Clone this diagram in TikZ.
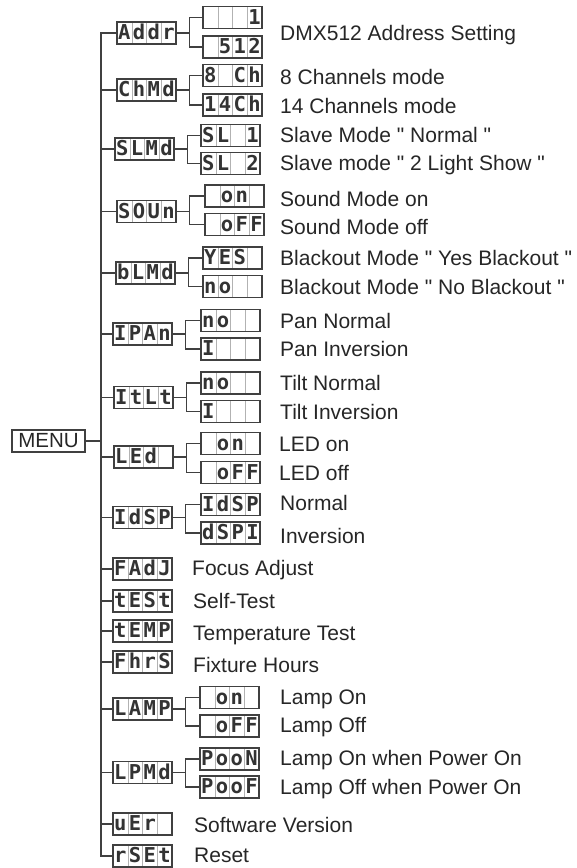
\documentclass[tikz,border=0pt]{standalone}
\usepackage{fontspec}
\setmainfont{Liberation Sans}
\newfontfamily\lcdfont{DejaVu Sans Mono}
\usetikzlibrary{calc}

% four digit cells of a display
\newcommand\digits[4]{\makebox[14.75pt]{#1}\makebox[14.75pt]{#2}\makebox[14.75pt]{#3}\makebox[14.75pt]{#4}}
\newcommand\qt{\textquotedbl}

\tikzset{
  lcd/.style={draw=black!75, line width=1.1pt, minimum width=59pt, minimum height=22pt,
    inner sep=0pt, text height=15pt, text depth=2pt, text=black!80,
    font=\lcdfont\bfseries\fontsize{20.5}{20.5}\selectfont,
    path picture={\foreach \k in {1,2,3}
      \draw[black!30, line width=0.5pt]
        ($(path picture bounding box.north west)!\k/4!(path picture bounding box.north east)$) --
        ($(path picture bounding box.south west)!\k/4!(path picture bounding box.south east)$);}},
  lbl/.style={anchor=base west, inner sep=0pt, text=black!85, font=\fontsize{21}{24}\selectfont},
  wire/.style={draw=black!75, line width=1.1pt},
}

\begin{document}
\begin{tikzpicture}[x=1pt, y=-1pt]
  \useasboundingbox (0,0) rectangle (577,868);

  % Root
  \node[draw=black!75, line width=1.1pt, inner sep=0pt, minimum width=73pt, minimum height=22pt,
        text=black!85, font=\fontsize{20.5}{24}\selectfont] (menu) at (48.5,441) {MENU};
  \coordinate (trunk) at (101,441);

  % --- First level displays ---
  \node[lcd] (addr) at (146.5,33)    {\digits{A}{d}{d}{r}};
  \node[lcd] (chmd) at (146.5,90)    {\digits{C}{h}{M}{d}};
  \node[lcd] (slmd) at (144.5,149)   {\digits{S}{L}{M}{d}};
  \node[lcd] (soun) at (146.5,211.5) {\digits{S}{O}{U}{n}};
  \node[lcd] (blmd) at (145.5,273)   {\digits{b}{L}{M}{d}};
  \node[lcd] (ipan) at (142.5,334)   {\digits{I}{P}{A}{n}};
  \node[lcd] (itlt) at (143.5,397.5) {\digits{I}{t}{L}{t}};
  \node[lcd] (led)  at (143.5,457)   {\digits{L}{E}{d}{}};
  \node[lcd] (idsp) at (142.5,517.5) {\digits{I}{d}{S}{P}};
  \node[lcd] (fadj) at (142.5,569)   {\digits{F}{A}{d}{J}};
  \node[lcd] (test) at (142.5,601)   {\digits{t}{E}{S}{t}};
  \node[lcd] (temp) at (142.5,631)   {\digits{t}{E}{M}{P}};
  \node[lcd] (fhrs) at (142.5,662)   {\digits{F}{h}{r}{S}};
  \node[lcd] (lamp) at (142.5,709)   {\digits{L}{A}{M}{P}};
  \node[lcd] (lpmd) at (142.5,772.5) {\digits{L}{P}{M}{d}};
  \node[lcd] (uer)  at (142.5,824)   {\digits{u}{E}{r}{}};
  \node[lcd] (rset) at (142.5,856)   {\digits{r}{S}{E}{t}};

  % --- Second level displays ---
  \node[lcd] (addra) at (232.5,17.5)  {\digits{}{}{}{1}};
  \node[lcd] (addrb) at (232.5,47)    {\digits{}{5}{1}{2}};
  \node[lcd] (chea)  at (232.5,75.5)  {\digits{8}{}{C}{h}};
  \node[lcd] (cheb)  at (232.5,105)   {\digits{1}{4}{C}{h}};
  \node[lcd] (slva)  at (230.5,135.5) {\digits{S}{L}{}{1}};
  \node[lcd] (slvb)  at (230.5,163.5) {\digits{S}{L}{}{2}};
  \node[lcd] (sona)  at (234.5,196)   {\digits{}{o}{n}{}};
  \node[lcd] (sonb)  at (234.5,224.5) {\digits{}{o}{F}{F}};
  \node[lcd] (blka)  at (232.5,258)   {\digits{Y}{E}{S}{}};
  \node[lcd] (blkb)  at (232.5,286.5) {\digits{n}{o}{}{}};
  \node[lcd] (pana)  at (230.5,320.5) {\digits{n}{o}{}{}};
  \node[lcd] (panb)  at (230.5,349)   {\digits{I}{}{}{}};
  \node[lcd] (tlta)  at (230.5,383)   {\digits{n}{o}{}{}};
  \node[lcd] (tltb)  at (230.5,411.5) {\digits{I}{}{}{}};
  \node[lcd] (leda)  at (230.5,443.5) {\digits{}{o}{n}{}};
  \node[lcd] (ledb)  at (230.5,472.5) {\digits{}{o}{F}{F}};
  \node[lcd] (dspa)  at (230.5,504.5) {\digits{I}{d}{S}{P}};
  \node[lcd] (dspb)  at (230.5,533)   {\digits{d}{S}{P}{I}};
  \node[lcd] (lmpa)  at (229.5,697.5) {\digits{}{o}{n}{}};
  \node[lcd] (lmpb)  at (229.5,726)   {\digits{}{o}{F}{F}};
  \node[lcd] (pwra)  at (229.5,759)   {\digits{P}{o}{o}{N}};
  \node[lcd] (pwrb)  at (229.5,787)   {\digits{P}{o}{o}{F}};

  % --- Wiring ---
  \draw[wire] (menu) -- (trunk);
  \draw[wire] (addr.west) -| (trunk) |- (rset.west);
  \foreach \n in {chmd,slmd,soun,blmd,ipan,itlt,led,idsp,fadj,test,temp,fhrs,lamp,lpmd,uer}
    \draw[wire] (\n.west) -- (\n.west -| trunk);
  \foreach \p/\a/\b in {addr/addra/addrb, chmd/chea/cheb, slmd/slva/slvb, soun/sona/sonb,
                        blmd/blka/blkb, ipan/pana/panb, itlt/tlta/tltb, led/leda/ledb,
                        idsp/dspa/dspb, lamp/lmpa/lmpb, lpmd/pwra/pwrb}
    \draw[wire] (\p.east) -- ++(13,0) coordinate (j) |- (\a.west) (j) |- (\b.west);

  % --- Descriptions ---
  \node[lbl] (t1)  at (280,40.5)  {DMX512 Address Setting};
  \node[lbl] (t2)  at (280,84.5)  {8 Channels mode};
  \node[lbl] (t3)  at (280,113.5) {14 Channels mode};
  \node[lbl] (t4)  at (280,142.5) {Slave Mode \qt{} Normal \qt};
  \node[lbl] (t5)  at (280,170.5) {Slave mode \qt{} 2 Light Show \qt};
  \node[lbl] (t6)  at (280,206.5) {Sound Mode on};
  \node[lbl] (t7)  at (280,234.5) {Sound Mode off};
  \node[lbl] (t8)  at (280,265.5) {Blackout Mode \qt{} Yes Blackout \qt};
  \node[lbl] (t9)  at (280,294.5) {Blackout Mode \qt{} No Blackout \qt};
  \node[lbl] (t10) at (280,328.5) {Pan Normal};
  \node[lbl] (t11) at (280,356.5) {Pan Inversion};
  \node[lbl] (t12) at (280,390.5) {Tilt Normal};
  \node[lbl] (t13) at (280,419.5) {Tilt Inversion};
  \node[lbl] (t14) at (279,451.5) {LED on};
  \node[lbl] (t15) at (279,480.5) {LED off};
  \node[lbl] (t16) at (280,510.5) {Normal};
  \node[lbl] (t17) at (280,543.5) {Inversion};
  \node[lbl] (t18) at (192,575.5) {Focus Adjust};
  \node[lbl] (t19) at (193,608.5) {Self-Test};
  \node[lbl] (t20) at (193,640.5) {Temperature Test};
  \node[lbl] (t21) at (193,672.5) {Fixture Hours};
  \node[lbl] (t22) at (280,704.5) {Lamp On};
  \node[lbl] (t23) at (280,732.5) {Lamp Off};
  \node[lbl] (t24) at (280,765.5) {Lamp On when Power On};
  \node[lbl] (t25) at (280,794.5) {Lamp Off when Power On};
  \node[lbl] (t26) at (194,832.5) {Software Version};
  \node[lbl] (t27) at (194,862.5) {Reset};
\end{tikzpicture}
\end{document}
